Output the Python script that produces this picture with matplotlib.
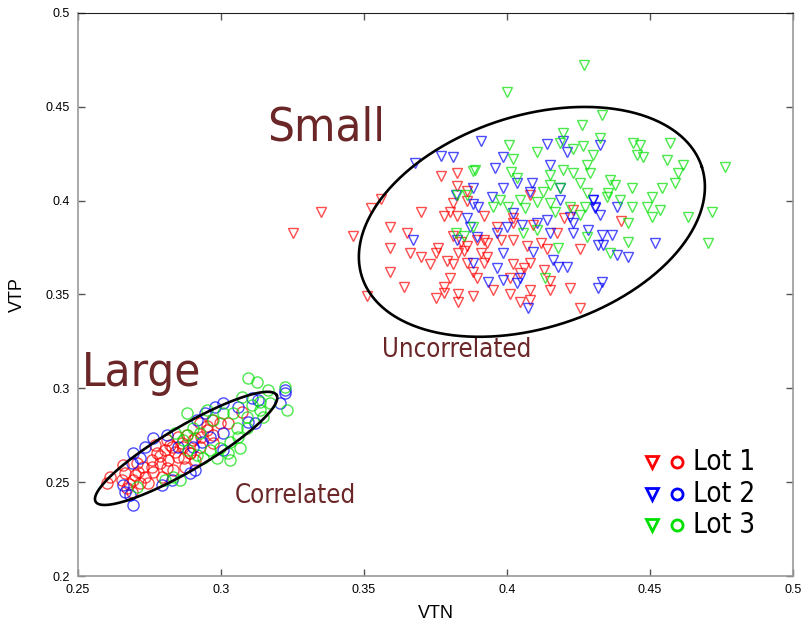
import numpy as np
import matplotlib
matplotlib.use("Agg")
import matplotlib.pyplot as plt
from matplotlib import font_manager as fm

plt.rcParams['font.family'] = ['Liberation Sans', 'DejaVu Sans']

# condensed sans face for the annotations
narrow = [f for f in fm.fontManager.ttflist
          if f.name == 'DejaVu Sans' and f.stretch in ('condensed', 'semi-condensed')
          and f.style == 'normal' and f.weight in (400, 'normal', 'regular', 'book')]
if narrow:
    NARROW = fm.FontProperties(fname=narrow[0].fname)
else:
    NARROW = fm.FontProperties(family='Liberation Sans')

# small devices (triangles): (VTN, VTP)
lot1_small = [
    (0.346, 0.381), (0.3525, 0.396), (0.356, 0.401), (0.359, 0.386), (0.370, 0.394),
    (0.365, 0.383), (0.359, 0.375), (0.359, 0.362), (0.364, 0.354), (0.351, 0.349),
    (0.366, 0.372), (0.370, 0.370), (0.373, 0.366), (0.376, 0.375), (0.375, 0.372),
    (0.379, 0.368), (0.381, 0.366), (0.380, 0.359), (0.378, 0.354), (0.378, 0.351),
    (0.375, 0.348), (0.383, 0.350), (0.383, 0.346), (0.377, 0.413), (0.3825, 0.415),
    (0.3825, 0.408), (0.381, 0.399), (0.380, 0.394), (0.378, 0.392), (0.3825, 0.392),
    (0.381, 0.381), (0.384, 0.378), (0.386, 0.376), (0.385, 0.373), (0.383, 0.372),
    (0.386, 0.367), (0.388, 0.362), (0.386, 0.405), (0.386, 0.400), (0.325, 0.383),
    (0.335, 0.394), (0.408, 0.403), (0.392, 0.392), (0.402, 0.391), (0.402, 0.388),
    (0.3965, 0.386), (0.409, 0.387), (0.4175, 0.383), (0.423, 0.395), (0.420, 0.391),
    (0.3895, 0.379), (0.392, 0.379), (0.393, 0.3775), (0.398, 0.379), (0.402, 0.379),
    (0.407, 0.376), (0.412, 0.3775), (0.414, 0.374), (0.391, 0.372), (0.393, 0.370),
    (0.392, 0.367), (0.402, 0.366), (0.406, 0.364), (0.408, 0.367), (0.4045, 0.3615),
    (0.3895, 0.359), (0.401, 0.359), (0.413, 0.363), (0.422, 0.3535), (0.4255, 0.374),
    (0.395, 0.3525), (0.401, 0.350), (0.408, 0.3525), (0.415, 0.3525), (0.415, 0.357),
    (0.4045, 0.346), (0.408, 0.347), (0.388, 0.349), (0.4255, 0.343), (0.440, 0.389),
]
lot2_small = [
    (0.368, 0.420), (0.377, 0.424), (0.381, 0.423), (0.367, 0.379), (0.382, 0.403),
    (0.388, 0.407), (0.386, 0.391), (0.387, 0.386), (0.388, 0.398), (0.388, 0.367),
    (0.3825, 0.379), (0.391, 0.432), (0.414, 0.430), (0.4196, 0.432), (0.421, 0.426),
    (0.3986, 0.423), (0.3958, 0.4175), (0.415, 0.419), (0.4035, 0.4095), (0.4087, 0.4095),
    (0.3948, 0.402), (0.408, 0.4047), (0.4185, 0.4068), (0.3986, 0.4068), (0.3899, 0.3967),
    (0.4021, 0.3935), (0.4185, 0.4004), (0.422, 0.3914), (0.430, 0.4004), (0.4308, 0.3962),
    (0.414, 0.3898), (0.400, 0.386), (0.4052, 0.3871), (0.4105, 0.3882), (0.4231, 0.3882),
    (0.4283, 0.3844), (0.4231, 0.3828), (0.415, 0.3828), (0.3965, 0.3828), (0.3895, 0.3807),
    (0.3986, 0.3722), (0.4091, 0.3727), (0.4161, 0.3684), (0.4178, 0.3647), (0.421, 0.3647),
    (0.3965, 0.3642), (0.3934, 0.3567), (0.3986, 0.3578), (0.4045, 0.3589), (0.4035, 0.3562),
    (0.4318, 0.3764), (0.4073, 0.3429), (0.4325, 0.4297), (0.4301, 0.4004), (0.4308, 0.3967),
    (0.4385, 0.3967), (0.4325, 0.3924), (0.4332, 0.3818), (0.4367, 0.3818), (0.4336, 0.3764),
    (0.4385, 0.3711), (0.4423, 0.370), (0.4517, 0.3775), (0.4332, 0.3567), (0.4318, 0.3535),
]
lot3_small = [
    (0.388, 0.416), (0.3825, 0.403), (0.386, 0.403), (0.382, 0.383), (0.385, 0.381),
    (0.388, 0.386), (0.4269, 0.4724), (0.400, 0.458), (0.4262, 0.4404), (0.4196, 0.4361),
    (0.4007, 0.4297), (0.4105, 0.426), (0.4185, 0.4308), (0.4231, 0.4276), (0.4266, 0.4292),
    (0.4021, 0.4223), (0.3888, 0.4164), (0.4014, 0.4153), (0.415, 0.4138), (0.4196, 0.4164),
    (0.4231, 0.4148), (0.428, 0.4191), (0.429, 0.4148), (0.4035, 0.4122), (0.415, 0.4084),
    (0.4126, 0.4047), (0.4185, 0.4068), (0.4255, 0.4095), (0.428, 0.4042), (0.4045, 0.4004),
    (0.4105, 0.3994), (0.415, 0.3988), (0.3976, 0.4004), (0.3951, 0.3967), (0.4003, 0.3967),
    (0.4063, 0.3962), (0.4168, 0.394), (0.422, 0.3967), (0.4273, 0.3967), (0.4255, 0.3924),
    (0.428, 0.3807), (0.4178, 0.3748), (0.4133, 0.3589), (0.4105, 0.3844), (0.4056, 0.3828),
    (0.4332, 0.4457), (0.4325, 0.4335), (0.4441, 0.4308), (0.4465, 0.4297), (0.457, 0.4308),
    (0.4455, 0.4244), (0.4476, 0.4233), (0.4559, 0.4217), (0.4615, 0.4191), (0.4598, 0.4148),
    (0.4762, 0.418), (0.4301, 0.4244), (0.4587, 0.4095), (0.4542, 0.4068), (0.4437, 0.4068),
    (0.436, 0.4111), (0.4378, 0.4084), (0.4353, 0.4042), (0.4507, 0.402), (0.4395, 0.4004),
    (0.449, 0.3967), (0.4535, 0.3951), (0.4437, 0.3967), (0.4507, 0.3914), (0.4633, 0.3914),
    (0.4717, 0.394), (0.4423, 0.3882), (0.4423, 0.378), (0.4703, 0.3775), (0.436, 0.3722),
    (0.435, 0.402),
]

# large devices (circles): (VTN, VTP)
lot1_large = [
    (0.2601, 0.2496), (0.2612, 0.2528), (0.2657, 0.2592), (0.2664, 0.2549), (0.2654, 0.2512),
    (0.2671, 0.2469), (0.2689, 0.2448), (0.2692, 0.2512), (0.271, 0.2554), (0.2706, 0.2602),
    (0.2727, 0.2581), (0.2734, 0.2528), (0.2717, 0.2496), (0.2745, 0.2496), (0.2759, 0.2618),
    (0.2762, 0.2554), (0.2776, 0.2656), (0.2787, 0.2602), (0.2794, 0.2528), (0.2804, 0.2672),
    (0.2815, 0.2618), (0.2829, 0.2688), (0.2832, 0.2565), (0.285, 0.2634), (0.2864, 0.2709),
    (0.2874, 0.2581), (0.2892, 0.2656), (0.2811, 0.2725), (0.2769, 0.2698), (0.285, 0.2741),
    (0.2902, 0.2725), (0.2811, 0.2576), (0.3073, 0.2874), (0.3024, 0.2816), (0.2969, 0.2832),
    (0.2997, 0.2816), (0.2927, 0.2816), (0.2951, 0.2778), (0.2972, 0.2752), (0.2881, 0.2752),
    (0.2909, 0.2736), (0.2927, 0.2688), (0.2892, 0.2656), (0.2972, 0.2709), (0.2867, 0.2688),
    (0.2909, 0.2618), (0.2785, 0.2640), (0.2840, 0.2660), (0.2870, 0.2630), (0.2820, 0.2700),
    (0.2930, 0.2740), (0.2950, 0.2800), (0.2760, 0.2580), (0.2700, 0.2540), (0.2680, 0.2490),
]
lot2_large = [
    (0.2692, 0.2656), (0.2734, 0.2688), (0.2717, 0.2629), (0.2689, 0.2602), (0.2762, 0.2736),
    (0.2692, 0.2378), (0.2664, 0.2448), (0.2657, 0.2485), (0.2682, 0.2432), (0.2794, 0.2485),
    (0.2829, 0.2512), (0.2892, 0.2549), (0.2909, 0.2565), (0.285, 0.2688), (0.2811, 0.2752),
    (0.3224, 0.2991), (0.3224, 0.2975), (0.3108, 0.2949), (0.3129, 0.2938), (0.3206, 0.2922),
    (0.3007, 0.2922), (0.2979, 0.2901), (0.3059, 0.2901), (0.3119, 0.2816), (0.3094, 0.2821),
    (0.2944, 0.2869), (0.2916, 0.2832), (0.3007, 0.2762), (0.2962, 0.2741), (0.3007, 0.2672),
    (0.2902, 0.2688), (0.2934, 0.2714),
]
lot3_large = [
    (0.2839, 0.2762), (0.2881, 0.2752), (0.2706, 0.2474), (0.2804, 0.2512), (0.2832, 0.2528),
    (0.2857, 0.2512), (0.3094, 0.3055), (0.3126, 0.3034), (0.3073, 0.2954), (0.3164, 0.2991),
    (0.3224, 0.3007), (0.3231, 0.2885), (0.3136, 0.2885), (0.3171, 0.2922), (0.3108, 0.2911),
    (0.3136, 0.2927), (0.3147, 0.2848), (0.3091, 0.2848), (0.3056, 0.2789), (0.3091, 0.2789),
    (0.3059, 0.2741), (0.3031, 0.2714), (0.3066, 0.2682), (0.3042, 0.2869), (0.3007, 0.2869),
    (0.2972, 0.2832), (0.3024, 0.2656), (0.2997, 0.2682), (0.2962, 0.2672), (0.2927, 0.2762),
    (0.2951, 0.2885), (0.2902, 0.2789), (0.2881, 0.2869), (0.2867, 0.2725), (0.2885, 0.2672),
    (0.2937, 0.2629), (0.2986, 0.2629), (0.2916, 0.2645), (0.3031, 0.2618),
]

lots = ["Lot 1", "Lot 2", "Lot 3"]
colors = ["#ff0000", "#0000ff", "#00e000"]
xticks = [0.25, 0.3, 0.35, 0.4, 0.45, 0.5]
yticks = [0.2, 0.25, 0.3, 0.35, 0.4, 0.45, 0.5]

fig = plt.figure(figsize=(8.05, 6.24), dpi=100)
ax = fig.add_axes([0.0969, 0.0769, 0.8882, 0.9023])

for small, large, c in zip([lot1_small, lot2_small, lot3_small],
                           [lot1_large, lot2_large, lot3_large], colors):
    s = np.array(small)
    l = np.array(large)
    ax.plot(s[:, 0], s[:, 1], 'v', ms=7, mfc='none', mec=c, mew=1.0, alpha=0.7)
    ax.plot(l[:, 0], l[:, 1], 'o', ms=8, mfc='none', mec=c, mew=1.0, alpha=0.7)


def ring(cx, cy, a, b, ang):
    # ellipse sized in screen pixels, mapped back to data units
    t = np.linspace(0, 2 * np.pi, 400)
    th = np.radians(ang)
    dx = a * np.cos(t) * np.cos(th) - b * np.sin(t) * np.sin(th)
    dy = a * np.cos(t) * np.sin(th) + b * np.sin(t) * np.cos(th)
    return cx + dx * 0.05 / 143.0, cy + dy * 0.05 / 93.8


ex, ey = ring(0.2878, 0.2680, 105, 22, 30.5)
ax.plot(ex, ey, color='black', lw=1.9, zorder=5)
ex, ey = ring(0.4087, 0.3887, 178.6, 106, 17.95)
ax.plot(ex, ey, color='black', lw=1.9, zorder=5)

brown = "#6b2628"
ax.text(0.3367, 0.4388, "Small", fontproperties=NARROW, fontsize=34, color=brown,
        ha='center', va='center')
ax.text(0.2722, 0.3077, "Large", fontproperties=NARROW, fontsize=34, color=brown,
        ha='center', va='center')
ax.text(0.3823, 0.3205, "Uncorrelated", fontproperties=NARROW, fontsize=18.5, color=brown,
        ha='center', va='center')
ax.text(0.3260, 0.2426, "Correlated", fontproperties=NARROW, fontsize=18.5, color=brown,
        ha='center', va='center')

# legend drawn by hand: triangle, circle, label
for i, (name, c) in enumerate(zip(lots, colors)):
    yy = 0.2025 - i * 0.0560
    ax.plot(0.8028, yy, 'v', ms=9, mfc='none', mec=c, mew=2, transform=ax.transAxes)
    ax.plot(0.8378, yy, 'o', ms=8, mfc='none', mec=c, mew=2, transform=ax.transAxes)
    ax.text(0.860, yy, name, fontproperties=NARROW, fontsize=20, color='black',
            ha='left', va='center', transform=ax.transAxes)

ax.set_xlim(0.25, 0.5)
ax.set_ylim(0.2, 0.5)
ax.set_xticks(xticks)
ax.set_yticks(yticks)
ax.set_xticklabels([("%g" % v) for v in xticks])
ax.set_yticklabels([("%g" % v) for v in yticks])
ax.tick_params(direction='in', length=5, width=1, top=True, right=True,
               labelsize=9, color='#555555', pad=6)
for side in ['left', 'right', 'bottom']:
    ax.spines[side].set_color('#999999')
    ax.spines[side].set_linewidth(1.2)
ax.spines['top'].set_color('#222222')
ax.set_xlabel("VTN", fontsize=13, labelpad=6)
ax.set_ylabel("VTP", fontsize=13, labelpad=14)

fig.savefig("out.png", dpi=100)
